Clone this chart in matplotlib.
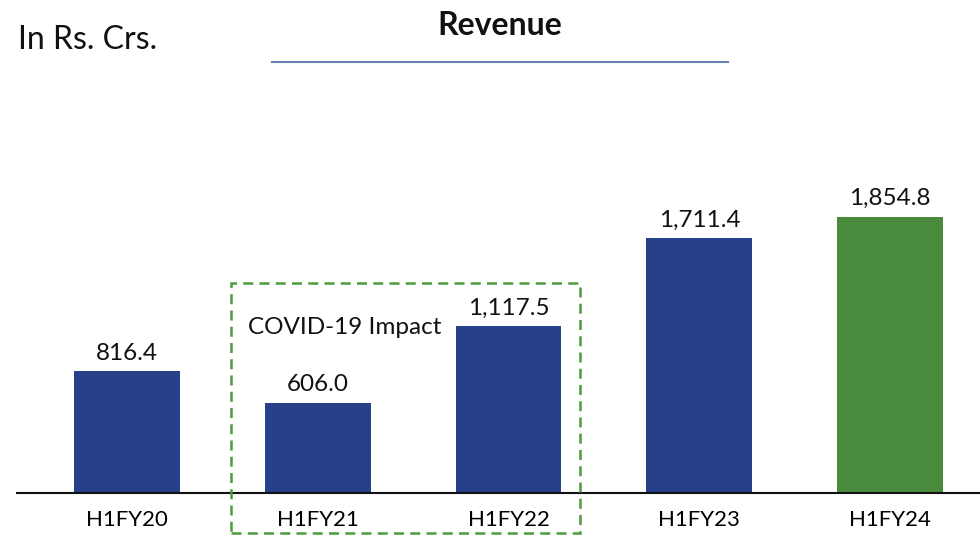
import numpy as np
import matplotlib.pyplot as plt
from matplotlib.patches import Rectangle
from matplotlib.lines import Line2D

plt.rcParams['font.family'] = ['Lato', 'DejaVu Sans']

periods = ['H1FY20', 'H1FY21', 'H1FY22', 'H1FY23', 'H1FY24']
revenue = [816.4, 606.0, 1117.5, 1711.4, 1854.8]
labels = ['816.4', '606.0', '1,117.5', '1,711.4', '1,854.8']
colors = ['#26418A', '#26418A', '#26418A', '#26418A', '#4A8A3D']

fig = plt.figure(figsize=(9.8, 5.35), dpi=100)
ax = fig.add_axes([0.0173, 0.0785, 0.9827, 0.77])

x = np.arange(len(periods))
ax.bar(x, revenue, width=0.555, color=colors, zorder=2)
for xi, v, lab in zip(x, revenue, labels):
    ax.text(xi, v + 50, lab, ha='center', va='bottom', fontsize=17.5, color='#111111')

ax.set_xlim(-0.575, 4.47)
ax.set_ylim(0, 2764)
ax.set_xticks(x)
ax.set_xticklabels(periods, fontsize=16)
ax.tick_params(axis='x', length=0, pad=12)
ax.set_yticks([])
for s in ['top', 'right', 'left']:
    ax.spines[s].set_visible(False)
ax.spines['bottom'].set_linewidth(1.5)
ax.spines['bottom'].set_color('#111111')

# dashed covid box
box = Rectangle((0.545, -268), 1.827, 1680, fill=False, edgecolor='#4E9A3C',
                linestyle=(0, (4, 2.5)), linewidth=1.8, clip_on=False, zorder=3)
ax.add_patch(box)
ax.text(0.634, 1111, 'COVID-19 Impact', ha='left', va='center', fontsize=17.5, color='#111111')

# header
fig.text(0.018, 0.925, 'In Rs. Crs.', ha='left', va='center', fontsize=23, color='#111111')
fig.text(0.51, 0.952, 'Revenue', ha='center', va='center', fontsize=23, fontweight='bold', color='#111111')
fig.add_artist(Line2D([272 / 980, 728 / 980], [1 - 62 / 535, 1 - 62 / 535], color='#6A80B3', linewidth=1.5))

fig.savefig('out.png', dpi=100)
